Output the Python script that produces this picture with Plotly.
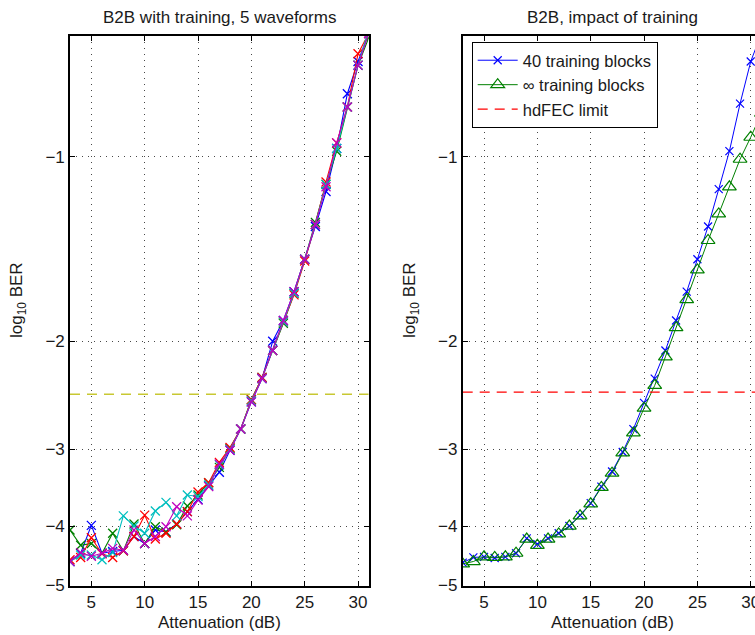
import plotly.graph_objects as go

# Attenuation sweep (dB)
atten_db = list(range(3, 32))

# Left panel: log10(BER) of five waveforms, all with training
wf1 = [-4.57, -4.43, -3.99, -4.43, -4.40, -4.38, -4.16, -4.27, -4.06, -4.09,
       -3.97, -3.79, -3.62, -3.44, -3.27, -3.01, -2.78, -2.51, -2.30, -2.00,
       -1.85, -1.66, -1.47, -1.30, -1.14, -0.97, -0.79, -0.70, -0.63]
wf2 = [-4.06, -4.30, -4.27, -4.43, -4.11, -4.39, -3.97, -4.27, -4.01, -4.09,
       -3.98, -3.71, -3.56, -3.40, -3.21, -2.99, -2.78, -2.49, -2.29, -2.07,
       -1.87, -1.67, -1.47, -1.28, -1.11, -0.98, -0.83, -0.71, -0.64]
wf3 = [-4.54, -4.50, -4.18, -4.44, -4.50, -4.39, -4.16, -3.84, -4.20, -4.11,
       -3.97, -3.79, -3.52, -3.40, -3.15, -2.98, -2.78, -2.49, -2.29, -2.07,
       -1.86, -1.68, -1.48, -1.29, -1.10, -0.95, -0.83, -0.68, -0.63]
wf4 = [-4.57, -4.46, -4.46, -4.54, -4.42, -3.85, -4.00, -4.11, -3.78, -3.66,
       -3.85, -3.56, -3.58, -3.43, -3.18, -3.00, -2.78, -2.50, -2.30, -2.07,
       -1.86, -1.67, -1.47, -1.29, -1.11, -0.97, -0.83, -0.71, -0.62]
wf5 = [-4.57, -4.42, -4.48, -4.43, -4.35, -4.38, -4.06, -4.27, -4.16, -4.01,
       -3.72, -3.85, -3.63, -3.45, -3.17, -3.01, -2.78, -2.51, -2.30, -2.07,
       -1.85, -1.66, -1.47, -1.29, -1.12, -0.95, -0.83, -0.71, -0.63]
waveforms = [wf1, wf2, wf3, wf4, wf5]
wf_colors = ["rgb(0,0,255)", "rgb(0,128,0)", "rgb(255,0,0)",
             "rgb(0,191,191)", "rgb(191,0,191)"]

# Right panel: log10(BER) vs number of training blocks
ber_40_blocks = [-4.59, -4.50, -4.49, -4.51, -4.49, -4.43, -4.19, -4.28, -4.19, -4.11,
                 -4.00, -3.84, -3.67, -3.45, -3.26, -3.03, -2.78, -2.52, -2.30, -2.07,
                 -1.85, -1.66, -1.47, -1.30, -1.13, -0.98, -0.82, -0.70, -0.63]
ber_inf_blocks = [-4.61, -4.57, -4.49, -4.50, -4.49, -4.43, -4.20, -4.30, -4.20, -4.12,
                  -4.00, -3.85, -3.68, -3.46, -3.28, -3.04, -2.82, -2.57, -2.36, -2.12,
                  -1.90, -1.71, -1.53, -1.37, -1.24, -1.12, -1.01, -0.93, -0.85]

# Hard-decision FEC thresholds, log10(BER)
hdfec_left = -2.44
hdfec_right = -2.42

tick_vals_log = [-1, -2, -3, -4, -5]


def depth(values):
    # the y axis is a log scale of -log10(BER), drawn with larger BER on top
    return [-v for v in values]


W, H = 755, 635
FONT = "Liberation Sans, Arial, Helvetica, sans-serif"
TXT = "#1a1a1a"
GRID = "rgba(40,40,40,0.85)"

fig = go.Figure()

for vals, col in zip(waveforms, wf_colors):
    fig.add_trace(go.Scatter(
        x=atten_db, y=depth(vals), mode="lines+markers",
        line=dict(color=col, width=1.1),
        marker=dict(symbol="x-thin-open", size=9, color=col,
                    line=dict(color=col, width=1.3)),
        showlegend=False, xaxis="x", yaxis="y"))

fig.add_trace(go.Scatter(
    x=[atten_db[0], atten_db[-1]], y=depth([hdfec_left, hdfec_left]),
    mode="lines", line=dict(color="rgb(200,200,50)", width=1.6, dash="10px,7px"),
    showlegend=False, xaxis="x", yaxis="y"))

fig.add_trace(go.Scatter(
    x=atten_db, y=depth(ber_40_blocks), mode="lines+markers",
    name="40 training blocks",
    line=dict(color="rgb(0,0,255)", width=1),
    marker=dict(symbol="x-thin-open", size=8, color="rgb(0,0,255)",
                line=dict(color="rgb(0,0,255)", width=1.2)),
    xaxis="x2", yaxis="y2"))
fig.add_trace(go.Scatter(
    x=atten_db, y=depth(ber_inf_blocks), mode="lines+markers",
    name="\u221e training blocks",
    line=dict(color="rgb(0,128,0)", width=1),
    marker=dict(symbol="triangle-up-open", size=12, color="rgb(0,128,0)",
                line=dict(color="rgb(0,128,0)", width=1.2)),
    xaxis="x2", yaxis="y2"))
fig.add_trace(go.Scatter(
    x=[atten_db[0], atten_db[-1]], y=depth([hdfec_right, hdfec_right]),
    mode="lines", name="hdFEC limit",
    line=dict(color="rgb(255,0,0)", width=1.2, dash="10px,7px"),
    xaxis="x2", yaxis="y2"))

px_per_db = 298.7 / 28.0
left_x0, right_x0 = 70.0, 462.7
y_dom = [(H - 585.5) / H, (H - 36.0) / H]

common_x = dict(
    tickvals=[5, 10, 15, 20, 25, 30], ticks="inside", ticklen=5,
    tickcolor="black", tickwidth=1, showline=True, linecolor="black",
    linewidth=1.6, showgrid=True, gridcolor=GRID, griddash="1px,5px",
    gridwidth=1, zeroline=False, tickfont=dict(family=FONT, size=17, color=TXT),
    automargin=False, ticklabeloverflow="allow", fixedrange=True)
common_y = dict(
    type="log", range=[0.69897, -0.1965], domain=y_dom,
    tickvals=depth(tick_vals_log),
    ticktext=["\u2212%d" % (-t) for t in tick_vals_log],
    ticks="inside", ticklen=5, tickcolor="black", tickwidth=1,
    showline=True, linecolor="black", linewidth=1.6,
    showgrid=True, gridcolor=GRID, griddash="1px,5px", gridwidth=1,
    zeroline=False, tickfont=dict(family=FONT, size=17, color=TXT),
    automargin=False, ticklabeloverflow="allow", fixedrange=True)

fig.update_layout(
    width=W, height=H, autosize=False, margin=dict(l=0, r=0, t=0, b=0, pad=0),
    paper_bgcolor="white", plot_bgcolor="white",
    font=dict(family=FONT, size=17, color=TXT),
    xaxis=dict(common_x, domain=[left_x0 / W, (left_x0 + 28 * px_per_db) / W],
               range=[3, 31], anchor="y", mirror="ticks"),
    yaxis=dict(common_y, anchor="x", mirror="ticks"),
    xaxis2=dict(common_x, domain=[right_x0 / W, 1.0],
                range=[3, 3 + (W - right_x0) / px_per_db], anchor="y2",
                mirror="ticks"),
    yaxis2=dict(common_y, anchor="x2", mirror=False),
    legend=dict(x=471.7 / W, y=(H - 42.0) / H, xanchor="left", yanchor="top",
                bgcolor="white", bordercolor="black", borderwidth=1,
                font=dict(family=FONT, size=16.5, color=TXT),
                itemwidth=40, tracegroupgap=0),
    showlegend=True,
)

left_cx = (left_x0 + 28 * px_per_db / 2) / W
right_cx = (right_x0 + 28 * px_per_db / 2) / W
ann = [
    dict(text="B2B with training, 5 waveforms", x=left_cx, y=(H - 18) / H),
    dict(text="B2B, impact of training", x=right_cx, y=(H - 18) / H),
    dict(text="Attenuation (dB)", x=left_cx, y=(H - 622) / H),
    dict(text="Attenuation (dB)", x=right_cx, y=(H - 622) / H),
    dict(text="log<sub>10</sub> BER", x=18 / W, y=(H - 300) / H, textangle=-90),
    dict(text="log<sub>10</sub> BER", x=411 / W, y=(H - 300) / H, textangle=-90),
]
for a in ann:
    fig.add_annotation(xref="paper", yref="paper", showarrow=False,
                       xanchor="center", yanchor="middle",
                       font=dict(family=FONT, size=17, color=TXT), **a)

fig.write_html("out.html")
